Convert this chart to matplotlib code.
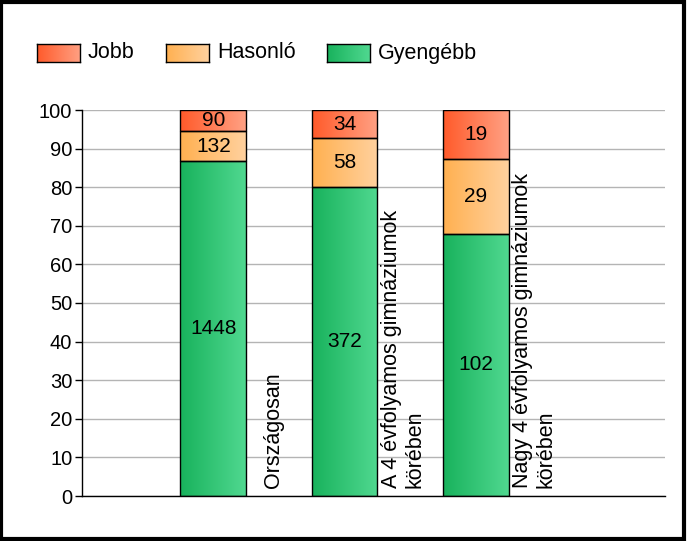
import numpy as np
import matplotlib.pyplot as plt
from matplotlib.colors import LinearSegmentedColormap
from matplotlib.patches import Rectangle

plt.rcParams['font.family'] = ['Liberation Sans', 'DejaVu Sans']

categories = ["Országosan", "A 4 évfolyamos gimnáziumok\nkörében", "Nagy 4 évfolyamos gimnáziumok\nkörében"]
series_names = ["Jobb", "Hasonló", "Gyengébb"]
gyengebb = [1448, 372, 102]
hasonlo = [132, 58, 29]
jobb = [90, 34, 19]

# gradient endpoints (left, right) per series
grad = {
    "Jobb": ("#ff5a2a", "#ffa184"),
    "Hasonló": ("#ffb050", "#ffd19e"),
    "Gyengébb": ("#18b25c", "#50d890"),
}

fig = plt.figure(figsize=(6.87, 5.41), dpi=100)
ax = fig.add_axes([82 / 687, 1 - 496 / 541, (665 - 82) / 687, (496 - 110) / 541])

x = np.arange(len(categories))
tot = np.array(gyengebb) + np.array(hasonlo) + np.array(jobb)
stack = [("Gyengébb", np.array(gyengebb)), ("Hasonló", np.array(hasonlo)), ("Jobb", np.array(jobb))]

gimg = np.linspace(0, 1, 256).reshape(1, -1)
bottom = np.zeros(len(categories))
for name, vals in stack:
    pct = vals / tot * 100
    bars = ax.bar(x, pct, 0.5, bottom=bottom, facecolor="none", edgecolor="black", linewidth=1, zorder=3)
    cmap = LinearSegmentedColormap.from_list(name, grad[name])
    for b, v, p, b0 in zip(bars, vals, pct, bottom):
        x0, w = b.get_x(), b.get_width()
        im = ax.imshow(gimg, cmap=cmap, aspect="auto", extent=[x0, x0 + w, b0, b0 + p], zorder=2)
        im.set_clip_path(b)
        ax.text(x0 + w / 2, b0 + p / 2, str(v), ha="center", va="center", fontsize=15, zorder=4)
    bottom = bottom + pct

label_off = [0.455, 0.445, 0.445]
for i, c in enumerate(categories):
    ax.text(x[i] + label_off[i], 2, c, rotation=90, ha="center", va="bottom",
            multialignment="left", fontsize=15.5, linespacing=1.15)

ax.set_xlim(-1, 3.44)
ax.set_ylim(0, 100)
ax.set_yticks(range(0, 101, 10))
ax.set_xticks([])
ax.grid(axis="y", color="#b4b4b4", linewidth=1, zorder=0)
ax.set_axisbelow(True)
for s in ["top", "right"]:
    ax.spines[s].set_visible(False)
ax.spines["left"].set_linewidth(1)
ax.spines["bottom"].set_linewidth(1)
ax.tick_params(axis="y", labelsize=14.5, length=5, width=1, pad=2)

# legend with gradient boxes
leg = [("Jobb", 37, 88), ("Hasonló", 166, 217), ("Gyengébb", 327, 378)]
for name, bx, tx in leg:
    lax = fig.add_axes([bx / 687, 1 - 62 / 541, 43 / 687, 18 / 541])
    lax.imshow(gimg, cmap=LinearSegmentedColormap.from_list(name, grad[name]), aspect="auto")
    lax.set_xticks([])
    lax.set_yticks([])
    for s in lax.spines.values():
        s.set_linewidth(1)
    fig.text(tx / 687, 1 - 53 / 541, name, ha="left", va="center", fontsize=15.5)

fig.patches.append(Rectangle((0.002, 0.003), 0.994, 0.994, transform=fig.transFigure,
                             fill=False, edgecolor="black", linewidth=3))

fig.savefig("out.png", dpi=100)
